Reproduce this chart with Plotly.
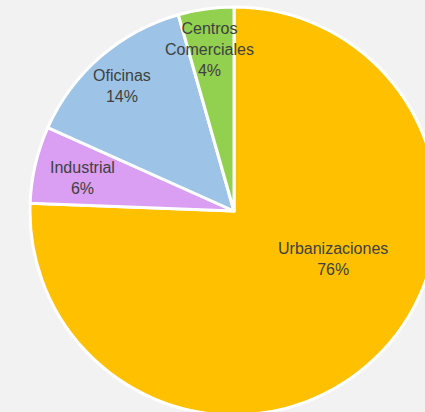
import math
import plotly.graph_objects as go

labels = ["Urbanizaciones", "Industrial", "Oficinas", "Centros Comerciales"]
label_text = ["Urbanizaciones", "Industrial", "Oficinas", "Centros<br>Comerciales"]
values = [75.6, 6.1, 13.9, 4.4]
colors = ["#FFC000", "#DA9EF2", "#9DC3E6", "#92D050"]

# style for label placement (fraction of radius, angle tweak in degrees)
label_r = [0.54, 0.76, 0.82, 0.80]
label_dang = [-20.2, -1.0, -1.0, -0.6]

W, H = 470, 425
x0, x1 = 30, 438
y0, y1 = 7, 415
cx, cy = (x0 + x1) / 2, (y0 + y1) / 2
R = (x1 - x0) / 2

fig = go.Figure(go.Pie(
    labels=labels,
    values=values,
    sort=False,
    direction="clockwise",
    rotation=0,
    marker=dict(colors=colors, line=dict(color="white", width=3)),
    textinfo="none",
    hoverinfo="label+percent",
    showlegend=False,
    domain=dict(x=[x0 / W, x1 / W], y=[1 - y1 / H, 1 - y0 / H]),
))

total = sum(values)
cum = 0
annotations = []
for lab, v, rf, da in zip(label_text, values, label_r, label_dang):
    mid = (cum + v / 2) / total * 360 + da
    cum += v
    pct = round(v / total * 100)
    a = math.radians(mid)
    px = cx + rf * R * math.sin(a)
    py = cy - rf * R * math.cos(a)
    annotations.append(dict(
        x=px / W, y=1 - py / H, xref="paper", yref="paper",
        text=f"{lab}<br>{pct}%", showarrow=False,
        font=dict(family="Liberation Sans, Arial, sans-serif", size=16, color="#404040"),
        xanchor="center", yanchor="middle", align="center",
    ))

fig.update_layout(
    width=W, height=H,
    margin=dict(l=0, r=0, t=0, b=0),
    paper_bgcolor="#F2F2F2",
    plot_bgcolor="#F2F2F2",
    annotations=annotations,
)

fig.write_html(
    "out.html",
    config={"displayModeBar": False},
    post_script=(
        "document.body.style.margin='0';"
        "document.body.style.overflow='hidden';"
        "document.documentElement.style.overflow='hidden';"
        "document.body.style.background='#F2F2F2';"
    ),
)
